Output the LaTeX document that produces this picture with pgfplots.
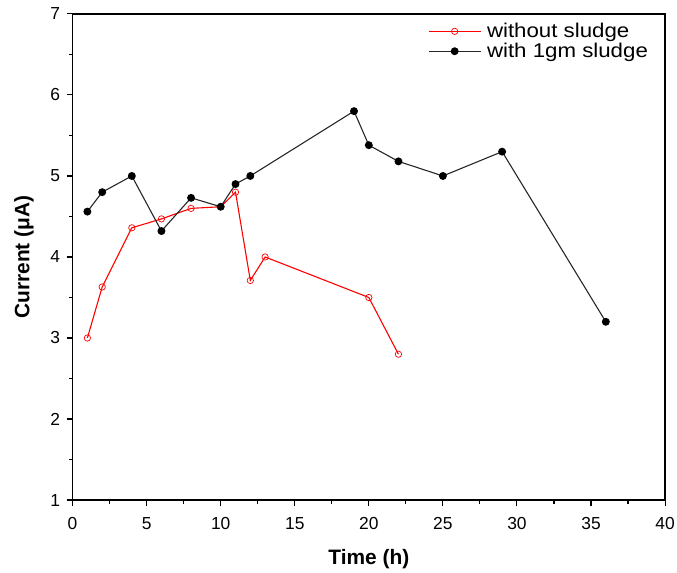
\documentclass[border=0pt]{standalone}
\usepackage{pgfplots}
\pgfplotsset{compat=1.18}
\usepackage{fontspec}
\setmainfont{Liberation Sans}
\begin{document}
\begin{tikzpicture}[x=1pt,y=1pt]
\useasboundingbox (-73,-73) rectangle (608,503);
\begin{axis}[
  at={(0,0)}, anchor=south west,
  width=596pt, height=489pt, scale only axis,
  xmin=0, xmax=40, ymin=1, ymax=7,
  xtick={0,5,...,40}, ytick={1,2,...,7},
  minor x tick num=1, minor y tick num=1,
  tick align=outside, tick pos=left,
  major tick length=6pt, minor tick length=3.5pt,
  every tick/.style={black, line width=1.1pt},
  axis line style={line width=1.3pt},
  /pgf/number format/assume math mode=true,
  ticklabel style={font=\fontsize{17.5}{19}\selectfont},
  xticklabel style={yshift=-8pt},
  yticklabel style={xshift=-3pt},
  xlabel={Time (h)}, ylabel={Current (μA)},
  label style={font=\fontsize{21}{24}\selectfont\bfseries},
  xlabel style={at={(axis description cs:0.5,-0.121)}, anchor=center},
  ylabel style={at={(axis description cs:-0.0822,0.5)}, anchor=center, rotate=0},
  legend style={draw=none, fill=none, at={(0.600,0.985)}, anchor=north west,
    font=\fontsize{20}{23}\selectfont, row sep=0pt, inner sep=0pt},
  legend cell align=left,
  legend image code/.code={\draw[mark repeat=2,mark phase=2] plot coordinates {(0pt,0pt)(26pt,0pt)(52pt,0pt)}; \path (56pt,0pt);},
]
\addplot[red, line width=1.1pt, mark=o, mark size=3.2pt, mark options={fill=white, line width=0.7pt}]
coordinates {(1,3.0)(2,3.63)(4,4.36)(6,4.47)(8,4.6)(10,4.62)(11,4.8)(12,3.71)(13,4.0)(20,3.5)(22,2.8)};
\addlegendentry{\scalebox{1.12}[1]{without sludge}}
\addplot[black!85, line width=1.1pt, mark=*, mark size=3.4pt, mark options={black}]
coordinates {(1,4.56)(2,4.8)(4,5.0)(6,4.32)(8,4.73)(10,4.62)(11,4.9)(12,5.0)(19,5.8)(20,5.38)(22,5.18)(25,5.0)(29,5.3)(36,3.2)};
\addlegendentry{\scalebox{1.12}[1]{with 1gm sludge}}
\end{axis}
\end{tikzpicture}
\end{document}
